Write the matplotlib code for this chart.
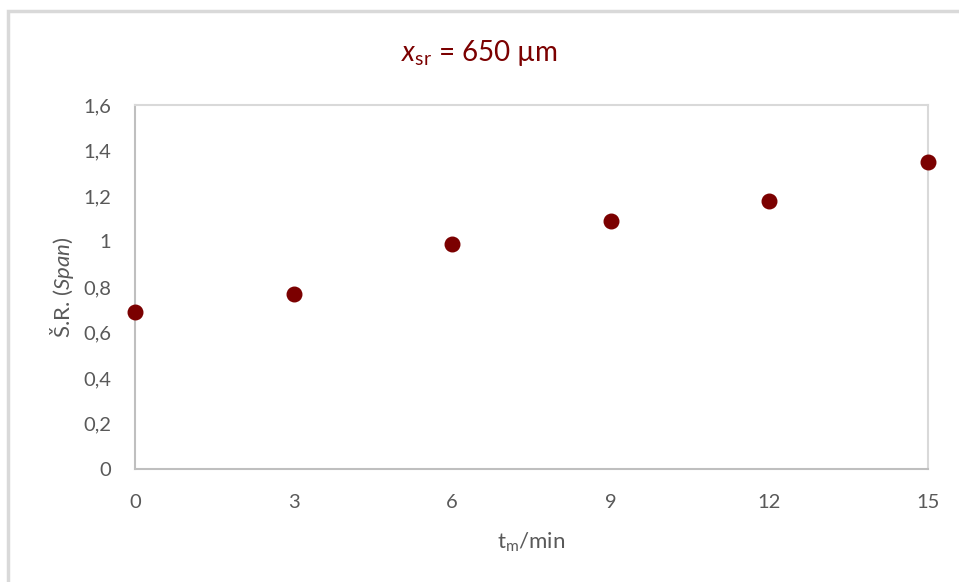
import matplotlib
matplotlib.use("Agg")
import matplotlib.pyplot as plt
from matplotlib.patches import Rectangle

plt.rcParams['font.family'] = ['Lato', 'DejaVu Sans']
plt.rcParams['mathtext.fontset'] = 'custom'
plt.rcParams['mathtext.rm'] = 'Lato'
plt.rcParams['mathtext.it'] = 'Lato:italic'

times = [0, 3, 6, 9, 12, 15]
span = [0.69, 0.77, 0.99, 1.09, 1.18, 1.35]
yticks = [0, 0.2, 0.4, 0.6, 0.8, 1.0, 1.2, 1.4, 1.6]
ytick_labels = ['0', '0,2', '0,4', '0,6', '0,8', '1', '1,2', '1,4', '1,6']
xtick_labels = ['0', '3', '6', '9', '12', '15']

W, H = 959, 582
fig = plt.figure(figsize=(W / 100, H / 100), dpi=100)
fig.patch.set_facecolor('white')

# figure border (top and left visible)
fig.patches.append(Rectangle((8 / W, -0.1), 1.2, 1 - 11 / H + 0.1,
                             transform=fig.transFigure, fill=False,
                             edgecolor='#d9d9d9', linewidth=2.5))

ax = fig.add_axes([135 / W, 1 - 469 / H, (928 - 135) / W, (469 - 105) / H])
ax.scatter(times, span, s=110, color='#7b0000', zorder=5, clip_on=False)

ax.set_xlim(0, 15)
ax.set_ylim(0, 1.6)
ax.set_xticks(times)
ax.set_xticklabels(xtick_labels)
ax.set_yticks(yticks)
ax.set_yticklabels(ytick_labels)
ax.tick_params(length=0, labelsize=14.5, colors='#595959')
ax.tick_params(axis='y', pad=17)
ax.tick_params(axis='x', pad=18)

for side in ['top', 'right']:
    ax.spines[side].set_color('#d9d9d9')
    ax.spines[side].set_linewidth(1.5)
for side in ['left', 'bottom']:
    ax.spines[side].set_color('#bfbfbf')
    ax.spines[side].set_linewidth(1.5)

ax.set_xlabel(r't$_{\mathrm{m}}$/min', fontsize=16, color='#595959', labelpad=14)
ax.set_ylabel(r'Š.R. ($\mathit{Span}$)', fontsize=16, color='#595959', labelpad=5)

fig.text(0.5, 1 - 53 / H, r'$x_{\mathrm{sr}}$ = 650 µm', ha='center', va='center',
         fontsize=20, color='#7b0000')

fig.savefig('out.png', dpi=100)
